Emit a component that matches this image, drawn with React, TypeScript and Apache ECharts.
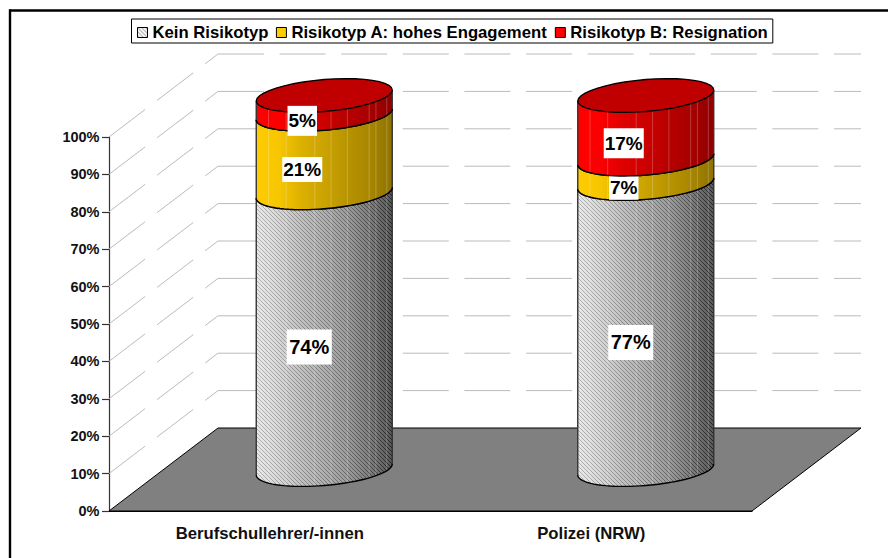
import React, { useEffect, useRef } from "react";
import * as echarts from "echarts";

const categories = ["Berufschullehrer/-innen", "Polizei (NRW)"];
const seriesNames = ["Kein Risikotyp", "Risikotyp A: hohes Engagement", "Risikotyp B: Resignation"];
const keinRisikotyp = [74, 76.5];
const risikotypA = [21, 6.5];
const risikotypB = [5, 17];
const gridTicks = [10, 20, 30, 40, 50, 60, 70, 80, 90, 100];

const FONT = '"Liberation Sans", Arial, sans-serif';
const DEPTH_X = 109;
const DEPTH_Y = 83;
const RX = 68;
const RY = 16;
const TILT = 5.5;

function hatchTile(alphaDark: number, alphaLight: number) {
  const c = document.createElement("canvas");
  c.width = 4;
  c.height = 4;
  const g = c.getContext("2d")!;
  g.fillStyle = `rgba(255,255,255,${alphaLight})`;
  g.fillRect(0, 0, 4, 4);
  for (let i = 0; i < 4; i++) {
    g.clearRect(i, i, 1, 1);
    g.fillStyle = `rgba(0,0,0,${alphaDark})`;
    g.fillRect(i, i, 1, 1);
  }
  return c;
}

function arc(cx: number, cy: number, from: number, to: number) {
  const pts: number[][] = [];
  const n = 40;
  for (let i = 0; i <= n; i++) {
    const t = from + ((to - from) * i) / n;
    pts.push([cx + RX * Math.cos(t), cy - TILT * Math.cos(t) + RY * Math.sin(t)]);
  }
  return pts;
}

function frontY(cx: number, cy: number, x: number) {
  const c = (x - cx) / RX;
  const s = Math.sqrt(Math.max(0, 1 - c * c));
  return cy - TILT * c + RY * s;
}

function grad(stops: string[]) {
  return {
    type: "linear",
    x: 0,
    y: 0,
    x2: 1,
    y2: 0,
    colorStops: stops.map((color, i) => ({ offset: i / (stops.length - 1), color })),
  };
}

const stripeFractions = [0.09, 0.22, 0.43, 0.55, 0.67, 0.83, 0.88, 0.96];

const looks = [
  {
    side: grad(["#e4e4e4", "#cecece", "#b2b2b2", "#9c9c9c", "#848484", "#5e5e5e", "#2e2e2e"]),
    top: "#c0c0c0",
    font: 20,
    padding: [7.5, 2.5],
    dx: -15,
    hatch: true,
  },
  {
    side: grad(["#ffcc00", "#f6c600", "#dcb000", "#cba300", "#b89400", "#a88600", "#8f7200"]),
    top: "#c09900",
    font: 19,
    padding: [3, 1],
    dx: -22,
    hatch: false,
  },
  {
    side: grad(["#ff0000", "#fa0000", "#e00000", "#cc0000", "#b80000", "#a80000", "#8f0000"]),
    top: "#c00000",
    font: 19,
    padding: [5.5, 1],
    dx: -22,
    hatch: false,
  },
];

export default function App() {
  const ref = useRef<HTMLDivElement>(null);

  useEffect(() => {
    const chart = echarts.init(ref.current!, undefined, { renderer: "svg" });
    const pattern = { image: hatchTile(0.22, 0.2), repeat: "repeat", imageWidth: 4, imageHeight: 4 } as any;
    const legendPattern = { image: hatchTile(0.5, 0.5), repeat: "repeat", imageWidth: 4, imageHeight: 4 } as any;
    const stacks = [keinRisikotyp, risikotypA, risikotypB];

    const segmentSeries = stacks.map((values, si) => ({
      type: "custom",
      name: seriesNames[si],
      coordinateSystem: "cartesian2d",
      z: 5 + si,
      silent: true,
      encode: { x: 0, y: 2 },
      itemStyle: { color: (looks[si].side as any).colorStops[2].color, borderColor: "#000", borderWidth: 1 },
      data: values.map((v, i) => {
        let start = 0;
        for (let k = 0; k < si; k++) start += stacks[k][i];
        return [i, start, start + v, v];
      }),
      renderItem: (_p: any, api: any) => {
        const look = looks[si];
        const cat = api.value(0);
        const a = api.coord([cat, api.value(1)]);
        const b = api.coord([cat, api.value(2)]);
        const cx = a[0] + DEPTH_X / 2;
        const yLow = a[1] - DEPTH_Y / 2;
        const yUp = b[1] - DEPTH_Y / 2;
        const upper = arc(cx, yUp, Math.PI, 0);
        const lower = arc(cx, yLow, 0, Math.PI);
        const outline = upper.concat(lower);
        const children: any[] = [
          { type: "polygon", shape: { points: outline }, style: { fill: look.side, stroke: "none" } },
        ];
        stripeFractions.forEach((f) => {
          const x = cx - RX + 2 * RX * f;
          children.push({
            type: "line",
            shape: { x1: x, y1: frontY(cx, yUp, x), x2: x, y2: frontY(cx, yLow, x) },
            style: { stroke: "rgba(255,255,255,0.22)", lineWidth: 1 },
          });
        });
        if (look.hatch) {
          children.push({ type: "polygon", shape: { points: outline }, style: { fill: pattern, stroke: "none" } });
        }
        children.push({ type: "polyline", shape: { points: lower }, style: { fill: "none", stroke: "#000", lineWidth: 1.4 } });
        children.push({
          type: "line",
          shape: { x1: upper[0][0], y1: upper[0][1], x2: lower[40][0], y2: lower[40][1] },
          style: { stroke: "#333", lineWidth: 1.4 },
        });
        children.push({
          type: "line",
          shape: { x1: upper[40][0], y1: upper[40][1], x2: lower[0][0], y2: lower[0][1] },
          style: { stroke: "#333", lineWidth: 1.4 },
        });
        if (si === stacks.length - 1) {
          children.push({
            type: "polygon",
            shape: { points: arc(cx, yUp, 0, Math.PI * 2) },
            style: { fill: look.top, stroke: "#000", lineWidth: 1.3 },
          });
        } else {
          children.push({ type: "polyline", shape: { points: upper }, style: { fill: "none", stroke: "#000", lineWidth: 1.4 } });
        }
        children.push({
          type: "text",
          x: cx + look.dx,
          y: (yLow + yUp) / 2 + 16,
          z2: 50,
          style: {
            text: `${Math.round(api.value(3))}%`,
            font: `bold ${look.font}px ${FONT}`,
            fill: "#000",
            align: "center",
            verticalAlign: "middle",
            backgroundColor: "#fff",
            padding: look.padding,
          },
        });
        return { type: "group", children };
      },
    }));

    chart.setOption({
      animation: false,
      backgroundColor: "#fff",
      textStyle: { fontFamily: FONT },
      grid: { left: 109, right: 136, top: 137, bottom: 47 },
      legend: {
        left: 131.5,
        top: 19,
        orient: "horizontal",
        itemWidth: 10,
        itemHeight: 10,
        itemGap: 7.5,
        padding: [5, 5, 2, 5.5],
        backgroundColor: "#fff",
        borderColor: "#000",
        borderWidth: 1,
        selectedMode: false,
        textStyle: { fontFamily: FONT, fontWeight: "bold", fontSize: 16.7, color: "#000" },
        data: seriesNames.map((name, i) => ({
          name,
          icon: "rect",
          itemStyle:
            i === 0
              ? { color: legendPattern, borderColor: "#000", borderWidth: 1 }
              : { color: i === 1 ? "#ffcc00" : "#ff0000", borderColor: "#000", borderWidth: 1 },
        })),
      },
      xAxis: {
        type: "category",
        data: categories,
        axisLine: { lineStyle: { color: "#000", width: 1.2 } },
        axisTick: { length: 7, lineStyle: { color: "#333", width: 1.2 } },
        axisLabel: { fontFamily: FONT, fontWeight: "bold", fontSize: 16.7, color: "#111", margin: 14 },
      },
      yAxis: {
        type: "value",
        min: 0,
        max: 100,
        interval: 10,
        axisLine: { show: true, lineStyle: { color: "#333", width: 1.2 } },
        axisTick: { show: true, length: 7, lineStyle: { color: "#333", width: 1.2 } },
        splitLine: { show: false },
        axisLabel: {
          formatter: "{value}%",
          fontFamily: FONT,
          fontWeight: "bold",
          fontSize: 14.5,
          color: "#111",
          margin: 9.5,
          padding: [2, 0, 0, 0],
        },
      },
      graphic: [
        { type: "line", silent: true, shape: { x1: 9, y1: 10.5, x2: 888, y2: 10.5 }, style: { stroke: "#000", lineWidth: 2.4 } },
        { type: "line", silent: true, shape: { x1: 10, y1: 9.5, x2: 10, y2: 558 }, style: { stroke: "#000", lineWidth: 2.4 } },
      ],
      series: [
        {
          type: "custom",
          name: "wand",
          coordinateSystem: "cartesian2d",
          z: 1,
          silent: true,
          encode: { x: 0, y: 1 },
          data: gridTicks.map((t) => [0, t]),
          renderItem: (p: any, api: any) => {
            const y = api.coord([0, api.value(1)])[1];
            const left = p.coordSys.x;
            const right = left + p.coordSys.width;
            return {
              type: "group",
              children: [
                {
                  type: "line",
                  shape: { x1: left, y1: y, x2: left + DEPTH_X, y2: y - DEPTH_Y },
                  style: { stroke: "#bbbbbb", lineWidth: 1, lineDash: [45.4, 15.1] },
                },
                {
                  type: "line",
                  shape: { x1: left + DEPTH_X, y1: y - DEPTH_Y, x2: right + DEPTH_X, y2: y - DEPTH_Y },
                  style: { stroke: "#bbbbbb", lineWidth: 1, lineDash: [46, 15.6] },
                },
              ],
            };
          },
        },
        {
          type: "custom",
          name: "boden",
          coordinateSystem: "cartesian2d",
          z: 2,
          silent: true,
          encode: { x: 0, y: 1 },
          data: [[0, 0]],
          renderItem: (p: any) => {
            const left = p.coordSys.x;
            const right = left + p.coordSys.width;
            const bottom = p.coordSys.y + p.coordSys.height;
            return {
              type: "polygon",
              shape: {
                points: [
                  [left, bottom],
                  [right, bottom],
                  [right + DEPTH_X, bottom - DEPTH_Y],
                  [left + DEPTH_X, bottom - DEPTH_Y],
                ],
              },
              style: { fill: "#808080", stroke: "#000", lineWidth: 1 },
            };
          },
        },
        ...segmentSeries,
      ],
    });
    return () => chart.dispose();
  }, []);

  return <div ref={ref} style={{ position: "fixed", left: 0, top: 0, width: 888, height: 558 }} />;
}
